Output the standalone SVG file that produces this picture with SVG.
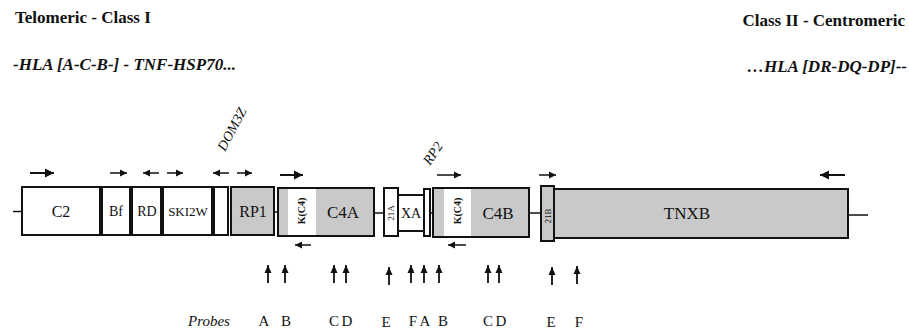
<svg xmlns="http://www.w3.org/2000/svg" width="909" height="329" viewBox="0 0 909 329">
<style>
.t{font-family:"Liberation Serif","Times New Roman",serif;fill:#111}
.hb{font-size:17px;font-weight:bold}
.hi{font-size:17px;font-weight:bold;font-style:italic}
.box{stroke:#111;stroke-width:2}
.w{fill:#fff}
.g{fill:#c9c9c9}
.lbl{font-size:16px;text-anchor:middle}
.sm{font-size:14px;text-anchor:middle}
.k{font-size:10px;font-weight:bold;text-anchor:middle}
.tiny{font-size:9px;text-anchor:middle}
.ln{stroke:#111;stroke-width:1.5;fill:none}
.ar{stroke:#111;stroke-width:1.5;fill:none;marker-end:url(#ah)}
.arb{stroke:#111;stroke-width:2;fill:none;marker-end:url(#ahb)}
.up{stroke:#111;stroke-width:1.8;fill:none;marker-end:url(#ahu)}
.rot{font-size:14px;font-style:italic}
.pr{font-size:15px;text-anchor:middle}
</style>
<defs>
<marker id="ah" markerUnits="userSpaceOnUse" markerWidth="8" markerHeight="8" refX="7" refY="4" orient="auto"><path d="M0,0.5 L7,4 L0,7.5 Z" fill="#111"/></marker>
<marker id="ahb" markerUnits="userSpaceOnUse" markerWidth="10" markerHeight="10" refX="9" refY="5" orient="auto"><path d="M0,0.5 L9,5 L0,9.5 Z" fill="#111"/></marker>
<marker id="ahu" markerUnits="userSpaceOnUse" markerWidth="8" markerHeight="9" refX="8" refY="4" orient="auto"><path d="M0,0.5 L8,4 L0,7.5 Z" fill="#111"/></marker>
</defs>
<rect width="909" height="329" fill="#fff"/>

<g id="headers">
<text class="t hb" x="15" y="23">Telomeric - Class I</text>
<text class="t hb" x="905" y="26" text-anchor="end">Class II - Centromeric</text>
<text class="t hi" x="13" y="70">-HLA [A-C-B-] - TNF-HSP70...</text>
<text class="t hi" x="907" y="72" text-anchor="end">…HLA [DR-DQ-DP]--</text>
</g>

<g id="connectors">
<line class="ln" x1="13" y1="211.5" x2="21" y2="211.5"/>
<line class="ln" x1="274" y1="212" x2="278" y2="212"/>
<line class="ln" x1="374" y1="213" x2="384" y2="213"/>
<line class="ln" x1="424" y1="213" x2="433" y2="213"/>
<line class="ln" x1="529" y1="213" x2="541" y2="213"/>
<line class="ln" x1="848" y1="215" x2="868" y2="215"/>
</g>

<g id="C2"><rect class="box w" x="22" y="187" width="78" height="48"/><text class="t lbl" x="61" y="217">C2</text></g>
<g id="Bf"><rect class="box w" x="102" y="187" width="28" height="48"/><text class="t sm" x="116" y="216">Bf</text></g>
<g id="RD"><rect class="box w" x="132" y="187" width="29" height="48"/><text class="t sm" x="147" y="216">RD</text></g>
<g id="SKI2W"><rect class="box w" x="163" y="187" width="49" height="48"/><text class="t sm" x="188" y="216" style="font-size:13px">SKI2W</text></g>
<g id="DOM3Z"><rect class="box w" x="214" y="187" width="14" height="48"/><text class="t rot" transform="translate(225,152) rotate(-62)">DOM3Z</text></g>
<g id="RP1"><rect class="box g" x="231" y="187" width="43" height="48"/><text class="t lbl" x="253" y="217">RP1</text></g>
<g id="C4A"><rect class="box g" x="278" y="188" width="96" height="48"/><rect x="288" y="189" width="28" height="46" fill="#fff"/><text class="t k" transform="translate(305,211) rotate(-90)">K(C4)</text><text class="t lbl" x="343" y="218" style="font-size:17px">C4A</text></g>
<g id="21A"><rect class="box w" x="384" y="188" width="14" height="48"/><text class="t tiny" transform="translate(394,213) rotate(-90)">21A</text></g>
<g id="XA"><rect class="box w" x="398" y="195" width="26" height="36"/><text class="t sm" x="411" y="218">XA</text></g>
<g id="RP2"><rect class="box w" x="424" y="189" width="6" height="47"/><text class="t rot" transform="translate(430,166) rotate(-56)">RP2</text></g>
<g id="C4B"><rect class="box g" x="433" y="188" width="96" height="49"/><rect x="444" y="189" width="27" height="47" fill="#fff"/><text class="t k" transform="translate(461,211) rotate(-90)">K(C4)</text><text class="t lbl" x="498" y="219" style="font-size:17px">C4B</text></g>
<g id="21B"><rect class="box g" x="541" y="186" width="13" height="55"/><text class="t tiny" transform="translate(551,216) rotate(-90)">21B</text></g>
<g id="TNXB"><rect class="box g" x="554" y="189" width="294" height="49"/><text class="t lbl" x="687" y="219" style="font-size:17px">TNXB</text></g>

<g id="arrows">
<line class="arb" x1="30" y1="173" x2="54" y2="173"/>
<line class="ar" x1="110" y1="173" x2="127" y2="173"/>
<line class="ar" x1="159" y1="173" x2="143" y2="173"/>
<line class="ar" x1="167" y1="173" x2="183" y2="173"/>
<line class="ar" x1="229" y1="173" x2="213" y2="173"/>
<line class="ar" x1="237" y1="173" x2="252" y2="173"/>
<line class="arb" x1="280" y1="175" x2="303" y2="175"/>
<line class="ar" x1="311" y1="245" x2="295" y2="245"/>
<line class="ar" x1="437" y1="175" x2="461" y2="175"/>
<line class="ar" x1="466" y1="245" x2="448" y2="245"/>
<line class="ar" x1="539" y1="175" x2="556" y2="175"/>
<line class="arb" x1="845" y1="175" x2="820" y2="175"/>
</g>

<g id="probe-arrows">
<line class="up" x1="268" y1="283" x2="268" y2="265"/>
<line class="up" x1="285" y1="283" x2="285" y2="265"/>
<line class="up" x1="334" y1="283" x2="334" y2="265"/>
<line class="up" x1="346" y1="283" x2="346" y2="265"/>
<line class="up" x1="389" y1="285" x2="389" y2="267"/>
<line class="up" x1="411" y1="283" x2="411" y2="265"/>
<line class="up" x1="424" y1="283" x2="424" y2="265"/>
<line class="up" x1="439" y1="283" x2="439" y2="265"/>
<line class="up" x1="488" y1="283" x2="488" y2="265"/>
<line class="up" x1="499" y1="283" x2="499" y2="265"/>
<line class="up" x1="552" y1="285" x2="552" y2="267"/>
<line class="up" x1="577" y1="284" x2="577" y2="266"/>
</g>

<g id="probes">
<text class="t" x="188" y="326" style="font-size:15px;font-style:italic">Probes</text>
<text class="t pr" x="264" y="326">A</text>
<text class="t pr" x="286" y="326">B</text>
<text class="t pr" x="334" y="326">C</text>
<text class="t pr" x="347" y="326">D</text>
<text class="t pr" x="386" y="327">E</text>
<text class="t pr" x="413" y="326">F</text>
<text class="t pr" x="425" y="326">A</text>
<text class="t pr" x="443" y="326">B</text>
<text class="t pr" x="488" y="326">C</text>
<text class="t pr" x="501" y="326">D</text>
<text class="t pr" x="551" y="327">E</text>
<text class="t pr" x="579" y="327">F</text>
</g>
</svg>
